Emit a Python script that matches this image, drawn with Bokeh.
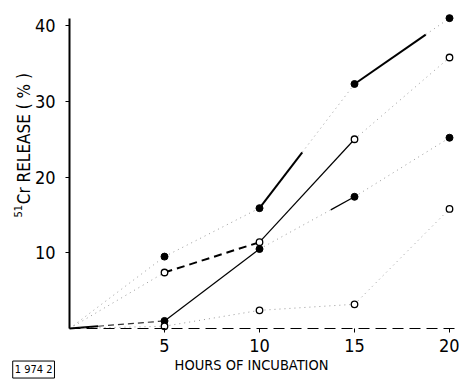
import math
from bokeh.plotting import figure
from bokeh.models import Range1d, FixedTicker, Label, ColumnDataSource
from bokeh.embed import file_html
from bokeh.resources import INLINE

# ---- data ----
hours = [0, 5, 10, 15, 20]
release_a = [0, 9.5, 15.9, 32.3, 41.0]   # filled circles, upper
release_b = [0, 7.4, 11.4, 25.0, 35.8]   # open circles, upper
release_c = [0, 1.0, 10.5, 17.4, 25.2]   # filled circles, lower
release_d = [0, 0.3, 2.4, 3.2, 15.8]     # open circles, lower
x_ticks = [5, 10, 15, 20]
y_ticks = [10, 20, 30, 40]

# segment styles: (kind of first part, fraction of it, kind of the rest)
styles_a = [("dotted", 1, "dotted"), ("dotted", 1, "dotted"), ("thick", 0.45, "dotted"), ("thick", 0.75, "dotted")]
styles_b = [("dotted", 1, "dotted"), ("dashed", 1, "dashed"), ("thin", 1, "thin"), ("dotted", 1, "dotted")]
styles_c = [("thick", 0.3, "dashthin"), ("thin", 1, "thin"), ("dotted", 0.75, "thin"), ("dotted", 1, "dotted")]
styles_d = [("dotted", 1, "dotted"), ("dotted", 1, "dotted"), ("dotted", 1, "dotted"), ("dotted", 1, "dotted")]

FONT = "'DejaVu Sans Condensed', Roboto, sans-serif"

# frame covers the whole canvas; axes are pinned at x=0 / y=0
p = figure(width=459, height=381, output_backend="svg", toolbar_location=None,
           x_range=Range1d(-3.632, 20.526), y_range=Range1d(-7.0, 43.33),
           min_border_left=0, min_border_right=0, min_border_top=0, min_border_bottom=0)
p.outline_line_color = None
p.xgrid.visible = False
p.ygrid.visible = False
p.background_fill_color = "white"
p.border_fill_color = "white"

line_props = {
    "thick": dict(line_width=2.0, line_color="black", line_dash="solid"),
    "thin": dict(line_width=1.2, line_color="black", line_dash="solid"),
    "dashed": dict(line_width=2.0, line_color="black", line_dash="8 5"),
    "dashthin": dict(line_width=1.2, line_color="#333333", line_dash="6 4"),
    "dotted": dict(line_width=1.0, line_color="#999999", line_dash="1 4"),
}
segs = {k: dict(x0=[], y0=[], x1=[], y1=[]) for k in line_props}

def add_series(vals, styles):
    for i, (k1, frac, k2) in enumerate(styles):
        x0, y0, x1, y1 = hours[i], vals[i], hours[i + 1], vals[i + 1]
        xm = x0 + frac * (x1 - x0)
        ym = y0 + frac * (y1 - y0)
        segs[k1]["x0"].append(x0); segs[k1]["y0"].append(y0)
        segs[k1]["x1"].append(xm); segs[k1]["y1"].append(ym)
        if frac < 1:
            segs[k2]["x0"].append(xm); segs[k2]["y0"].append(ym)
            segs[k2]["x1"].append(x1); segs[k2]["y1"].append(y1)

for vals, st in [(release_a, styles_a), (release_b, styles_b), (release_c, styles_c), (release_d, styles_d)]:
    add_series(vals, st)

for k, d in segs.items():
    if d["x0"]:
        p.segment(x0="x0", y0="y0", x1="x1", y1="y1", source=ColumnDataSource(d), **line_props[k])

# markers (no marker at origin)
for vals in (release_a, release_c):
    p.scatter(hours[1:], vals[1:], marker="circle", size=7, fill_color="black", line_color="black")
for vals in (release_b, release_d):
    p.scatter(hours[1:], vals[1:], marker="circle", size=6.5, fill_color="white", line_color="black", line_width=1.3)

# axes
xa = p.xaxis[0]
xa.fixed_location = 0
xa.bounds = (0, 20.526)
xa.ticker = FixedTicker(ticks=x_ticks)
xa.axis_line_dash = "11 6"
xa.axis_line_width = 1.2
xa.major_tick_in = 0
xa.major_tick_out = 4
xa.minor_tick_line_color = None
xa.major_label_text_font = FONT
xa.major_label_text_font_size = "18px"
xa.major_label_standoff = 6
xa.major_label_text_color = "black"

ya = p.yaxis[0]
ya.fixed_location = 0
ya.bounds = (0, 41.0)
ya.ticker = FixedTicker(ticks=y_ticks)
ya.axis_line_width = 2
ya.major_tick_in = 0
ya.major_tick_out = 4
ya.minor_tick_line_color = None
ya.major_label_text_font = FONT
ya.major_label_text_font_size = "18px"
ya.major_label_standoff = 10
ya.major_label_text_color = "black"

# axis titles and the plate number box
common = dict(text_font=FONT, text_align="center", text_baseline="middle", text_color="black")
p.add_layout(Label(x=9.58, y=-4.76, text="HOURS OF INCUBATION", text_font_size="14.5px", **common))
p.add_layout(Label(x=-2.4, y=25.4, text="Cr  RELEASE ( % )", angle=math.pi / 2, text_font_size="17px", **common))
p.add_layout(Label(x=-2.72, y=15.5, text="51", angle=math.pi / 2, text_font_size="11px", **common))
p.add_layout(Label(x=-1.89, y=-5.42, text="1 974 2", text_font_size="11px", border_line_color="black",
                   background_fill_color="white", padding=2, **common))

open("out.html", "w").write(file_html(p, INLINE))
